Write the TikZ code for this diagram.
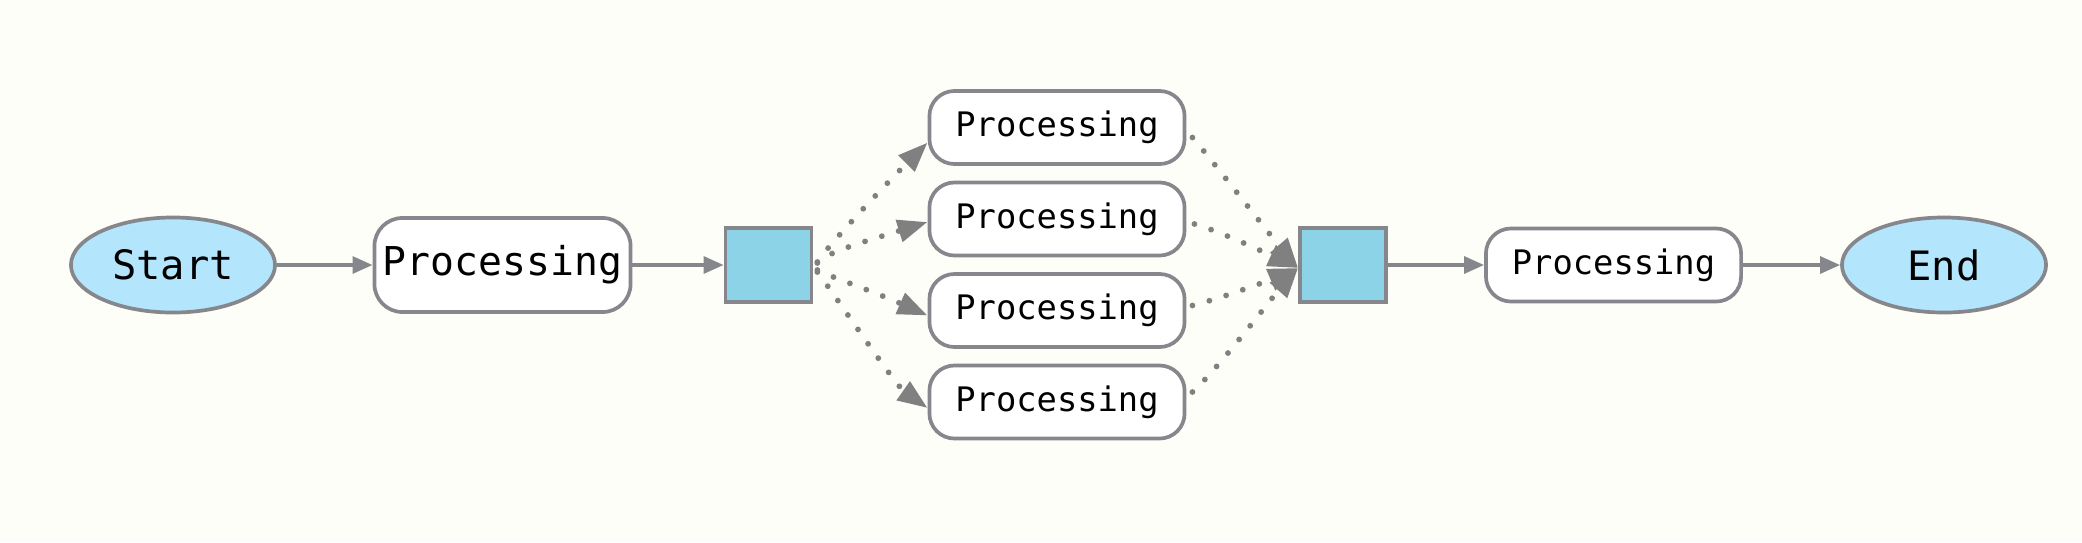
\documentclass[tikz,border=0pt]{standalone}
\usepackage{fontspec}
\newfontfamily\monofont{DejaVu Sans Mono}
\usetikzlibrary{arrows.meta,shapes.geometric}
\definecolor{bg}{HTML}{FEFEF8}
\definecolor{edge}{HTML}{85878C}
\definecolor{dotc}{HTML}{808080}
\definecolor{ellfill}{HTML}{B3E5FC}
\definecolor{sqfill}{HTML}{8DD3E7}
\begin{document}
\begin{tikzpicture}[x=0.01cm,y=-0.01cm,
  terminal/.style={ellipse, draw=edge, fill=ellfill, line width=1.05pt,
    minimum width=2.04cm, minimum height=0.95cm, inner sep=0pt,
    font=\monofont\fontsize{11.5}{13}\selectfont},
  bigproc/.style={rectangle, rounded corners=0.28cm, draw=edge, fill=white,
    line width=1.05pt, minimum width=2.56cm, minimum height=0.94cm, inner sep=0pt,
    font=\monofont\fontsize{11.3}{13}\selectfont},
  proc/.style={rectangle, rounded corners=0.25cm, draw=edge, fill=white,
    line width=1.05pt, minimum width=2.55cm, minimum height=0.73cm, inner sep=0pt,
    font=\monofont\fontsize{9.6}{11}\selectfont},
  junction/.style={rectangle, draw=edge, fill=sqfill, line width=1.05pt,
    minimum width=0.86cm, minimum height=0.74cm, inner sep=0pt},
  flow/.style={draw=edge, line width=1pt, -{Triangle[length=5.7pt,width=4.8pt]}},
  par/.style={draw=dotc, line width=1.65pt, line cap=round,
    dash pattern=on 0pt off 5pt, -{Triangle[length=8.5pt,width=6.2pt]}},
]
\fill[bg] (0,0) rectangle (2082,542);
\useasboundingbox (0,0) rectangle (2082,542);

\node[terminal] (start) at (173,265) {Start};
\node[bigproc] (p0) at (502.5,265) {Processing};
\node[junction] (s1) at (768.5,265) {};
\node[proc] (p1) at (1057,127.5) {Processing};
\node[proc] (p2) at (1057,219) {Processing};
\node[proc] (p3) at (1057,310.5) {Processing};
\node[proc] (p4) at (1057,402) {Processing};
\node[junction] (s2) at (1343,265) {};
\node[proc] (p5) at (1613.5,265) {Processing};
\node[terminal] (end) at (1944,265) {End};

\draw[flow] (start) -- (p0);
\draw[flow] (p0) -- (s1);
\draw[flow] (s2) -- (p5);
\draw[flow] (p5) -- (end);

% fan out
\draw[par] ([xshift=0.04cm,yshift=0.03cm]s1.east) .. controls (826,248) and (880,190) .. ([yshift=-0.15cm]p1.west);
\draw[par] ([xshift=0.04cm,yshift=0.02cm]s1.east) .. controls (826,252) and (870,240) .. ([yshift=-0.03cm]p2.west);
\draw[par] ([xshift=0.04cm,yshift=-0.05cm]s1.east) .. controls (828,276) and (870,290) .. ([yshift=-0.05cm]p3.west);
\draw[par] ([xshift=0.04cm,yshift=-0.07cm]s1.east) .. controls (828,285) and (895,385) .. ([yshift=-0.06cm]p4.west);

% fan in
\draw[par] ([xshift=0.06cm,yshift=-0.1cm]p1.east) .. controls (1212,160) and (1270,235) .. ([yshift=-0.03cm]s2.west);
\draw[par] ([xshift=0.08cm,yshift=-0.05cm]p2.east) .. controls (1222,232) and (1270,255) .. ([yshift=-0.03cm]s2.west);
\draw[par] ([xshift=0.06cm,yshift=0.05cm]p3.east) .. controls (1222,298) and (1270,280) .. ([yshift=-0.03cm]s2.west);
\draw[par] ([xshift=0.06cm,yshift=0.1cm]p4.east) .. controls (1217,370) and (1270,300) .. ([yshift=-0.03cm]s2.west);
\end{tikzpicture}
\end{document}
